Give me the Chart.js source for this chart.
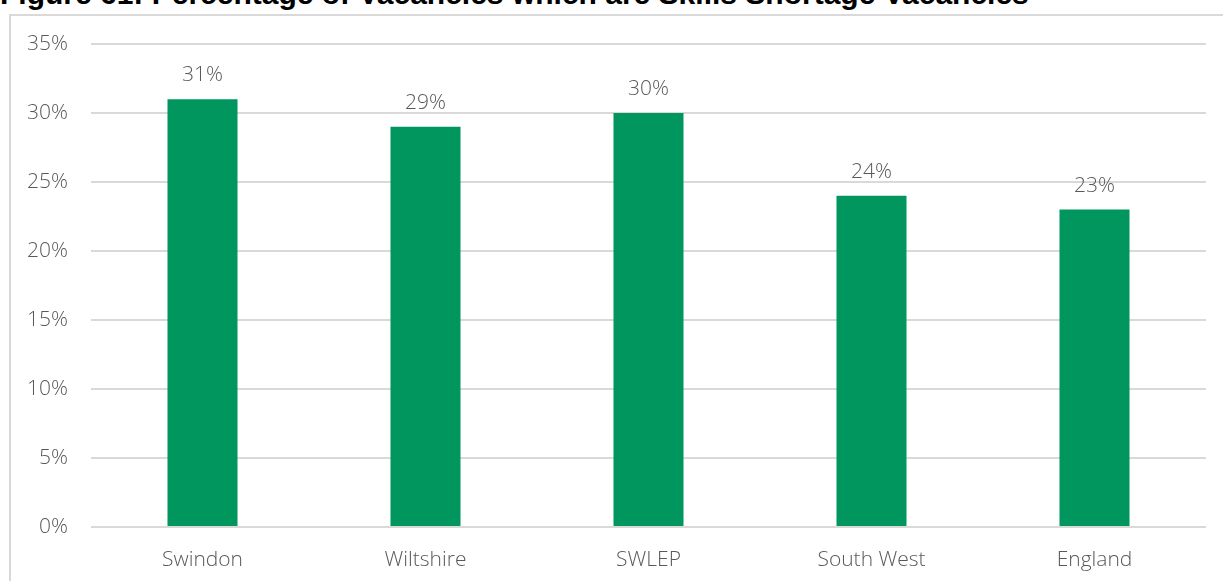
<!DOCTYPE html>
<html>
<head>
<meta charset="utf-8">
<script src="https://cdn.jsdelivr.net/npm/chart.js@4/dist/chart.umd.min.js"></script>
<style>
  html, body { margin: 0; padding: 0; background: #ffffff; overflow: hidden; }
  #wrap { position: relative; width: 1223px; height: 581px; }
  #title {
    position: absolute; left: 0; top: -23px; white-space: nowrap;
    font: bold 30px "Liberation Sans", Arial, sans-serif; color: #000000;
  }
  #frame {
    position: absolute; left: 9px; top: 14px; width: 1240px; height: 600px;
    border: 2px solid #d9d9d9; box-sizing: border-box; background: #ffffff;
  }
  #my-chart { position: absolute; left: 0; top: 0; }
</style>
</head>
<body>
<div id="wrap">
  <div id="title">Figure 61: Percentage of Vacancies which are Skills Shortage Vacancies</div>
  <div id="frame"></div>
  <canvas id="my-chart" width="1223" height="581"></canvas>
</div>
<script>
'use strict';
// ***** DATA *****
let areaLabels = ['Swindon', 'Wiltshire', 'SWLEP', 'South West', 'England'];
let shortageShare = [31, 29, 30, 24, 23]; // % of vacancies
let tickValues = [0, 5, 10, 15, 20, 25, 30, 35];

let textGrey = '#595959';
let barGreen = '#00965e';
let labelFont = { family: '"Open Sans", sans-serif', size: 21, weight: '300' };

// ***** VALUE LABELS ABOVE BARS *****
let valueLabels = {
  id: 'valueLabels',
  afterDatasetsDraw(chart) {
    let c = chart.ctx;
    let meta = chart.getDatasetMeta(0);
    c.save();
    c.fillStyle = textGrey;
    c.font = '300 21px "Open Sans", sans-serif';
    c.textAlign = 'center';
    c.textBaseline = 'alphabetic';
    meta.data.forEach((bar, i) => {
      c.fillText(shortageShare[i] + '%', bar.x, bar.y - 18);
    });
    c.restore();
  }
};

// ***** CHART *****
let ctx = document.getElementById('my-chart');

new Chart(ctx, {
  type: 'bar',
  data: {
    labels: areaLabels,
    datasets: [{
      data: shortageShare,
      backgroundColor: barGreen,
      borderWidth: 0,
      categoryPercentage: 1,
      barPercentage: 0.314
    }]
  },
  options: {
    responsive: false,
    animation: false,
    layout: { padding: { top: 44, right: 17, left: 0, bottom: 0 } },
    plugins: {
      legend: { display: false },
      tooltip: { enabled: false }
    },
    scales: {
      x: {
        grid: { display: false, drawTicks: false },
        border: { display: false },
        ticks: { color: textGrey, font: labelFont, padding: 20, maxRotation: 0 },
        afterFit: (scale) => { scale.height = 54; }
      },
      y: {
        min: 0,
        max: 35,
        afterBuildTicks: (scale) => { scale.ticks = tickValues.map((v) => ({ value: v })); },
        grid: { color: '#d9d9d9', lineWidth: 2, drawTicks: false },
        border: { display: false },
        ticks: {
          color: textGrey,
          font: labelFont,
          padding: 23,
          callback: (v) => v + '%'
        },
        afterFit: (scale) => { scale.width = 91; }
      }
    }
  },
  plugins: [valueLabels]
});
</script>
</body>
</html>
